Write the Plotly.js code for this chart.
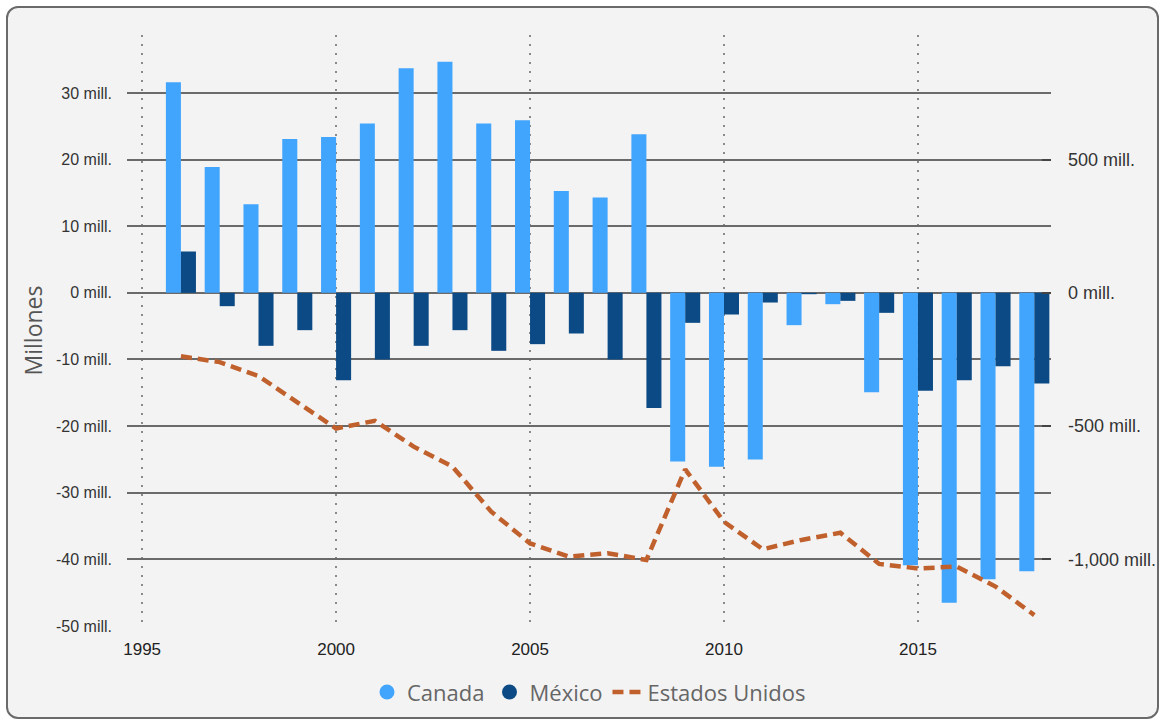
<!DOCTYPE html>
<html>
<head>
<meta charset="utf-8">
<script src="https://cdn.plot.ly/plotly-3.0.1.min.js"></script>
<style>
  html, body { margin: 0; padding: 0; background: #ffffff; }
  #frame {
    position: absolute; left: 6px; top: 6px;
    width: 1149px; height: 709px;
    border: 2px solid #6a6a6a; border-radius: 12px;
    background: #f3f3f3; overflow: hidden;
  }
  #chart { width: 1149px; height: 709px; }
</style>
</head>
<body>
<div id="frame"><div id="chart"></div></div>
<script>
// ---- data ----
const years = [1996,1997,1998,1999,2000,2001,2002,2003,2004,2005,2006,2007,2008,2009,2010,2011,2012,2013,2014,2015,2016,2017,2018];
const canada = [31.6,18.9,13.3,23.1,23.4,25.4,33.7,34.7,25.4,25.9,15.3,14.3,23.8,-25.3,-26.1,-25.0,-4.85,-1.7,-14.9,-40.9,-46.5,-43.0,-41.8];
const mexico = [6.2,-2.0,-7.95,-5.6,-13.1,-10.0,-7.95,-5.6,-8.7,-7.7,-6.1,-10.0,-17.3,-4.5,-3.25,-1.45,-0.2,-1.2,-3.0,-14.7,-13.1,-11.0,-13.6];
const estadosUnidos = [-238,-260,-312,-410,-509,-480,-577,-652,-821,-940,-990,-977,-1002,-662,-859,-962,-927,-900,-1017,-1034,-1027,-1102,-1209];

const leftTickVals = [30,20,10,0,-10,-20,-30,-40,-50];
const leftTickText = ["30 mill.","20 mill.","10 mill.","0 mill.","-10 mill.","-20 mill.","-30 mill.","-40 mill.","-50 mill."];
const rightTickVals = [500,0,-500,-1000];
const rightTickText = ["500 mill.","0 mill.","-500 mill.","-1,000 mill."];
const xTickVals = [1995,2000,2005,2010,2015];

const cCanada = '#42a5fd';
const cMexico = '#0b4a84';
const cUS = '#c0602c';

const traces = [
  { type:'bar', x: years, y: canada, name:'Canada', marker:{color:cCanada}, showlegend:false, yaxis:'y' },
  { type:'bar', x: years, y: mexico, name:'México', marker:{color:cMexico}, showlegend:false, yaxis:'y' },
  { type:'scatter', mode:'markers', x:[null], y:[null], name:'Canada', marker:{color:cCanada, size:15, symbol:'circle'}, showlegend:true, hoverinfo:'skip' },
  { type:'scatter', mode:'markers', x:[null], y:[null], name:'México', marker:{color:cMexico, size:15, symbol:'circle'}, showlegend:true, hoverinfo:'skip' },
  { type:'scatter', mode:'lines', x: years, y: estadosUnidos, name:'Estados Unidos', yaxis:'y2',
    line:{color:cUS, width:4.5, dash:'11px,6px', shape:'linear'} }
];

const layout = {
  width: 1149, height: 709,
  paper_bgcolor: 'rgba(0,0,0,0)',
  plot_bgcolor: 'rgba(0,0,0,0)',
  margin: { l: 119, r: 106, t: 27, b: 91, autoexpand: false },
  font: { family: 'Liberation Sans, Arial, sans-serif', color: '#333' },
  barmode: 'group',
  bargap: 0.225,
  bargroupgap: 0,
  showlegend: true,
  legend: {
    orientation: 'h', x: 0.5, xanchor: 'center', y: -0.112, yanchor: 'middle',
    font: { family: 'Open Sans, sans-serif', size: 22, color: '#666' },
    bgcolor: 'rgba(0,0,0,0)', itemwidth: 30, traceorder: 'normal'
  },
  xaxis: {
    range: [1994.61, 2018.43],
    tickmode: 'array', tickvals: xTickVals,
    showgrid: true, gridcolor: '#8a8a8a', gridwidth: 1.5, griddash: '2px,7px',
    zeroline: false, showline: false, ticks: '',
    tickfont: { size: 17, color: '#222' },
    ticklabelstandoff: 11
  },
  yaxis: {
    range: [-50, 38.7],
    tickmode: 'array', tickvals: leftTickVals, ticktext: leftTickText,
    showgrid: true, gridcolor: '#6a6a6a', gridwidth: 2,
    zeroline: true, zerolinecolor: '#6a6a6a', zerolinewidth: 2,
    showline: false, ticks: '',
    tickfont: { size: 16, color: '#333' },
    ticklabelstandoff: 14,
    title: { text: 'Millones', font: { family: 'Open Sans, sans-serif', size: 23, color: '#555' }, standoff: 6 }
  },
  yaxis2: {
    range: [-1250, 967.5],
    overlaying: 'y', side: 'right',
    tickmode: 'array', tickvals: rightTickVals, ticktext: rightTickText,
    showgrid: false, zeroline: false, showline: false,
    ticks: 'inside', ticklen: 9, tickwidth: 2, tickcolor: '#444',
    tickfont: { size: 18, color: '#333' },
    ticklabelstandoff: 16
  }
};

Plotly.newPlot('chart', traces, layout, { displayModeBar: false, staticPlot: true });
</script>
</body>
</html>
